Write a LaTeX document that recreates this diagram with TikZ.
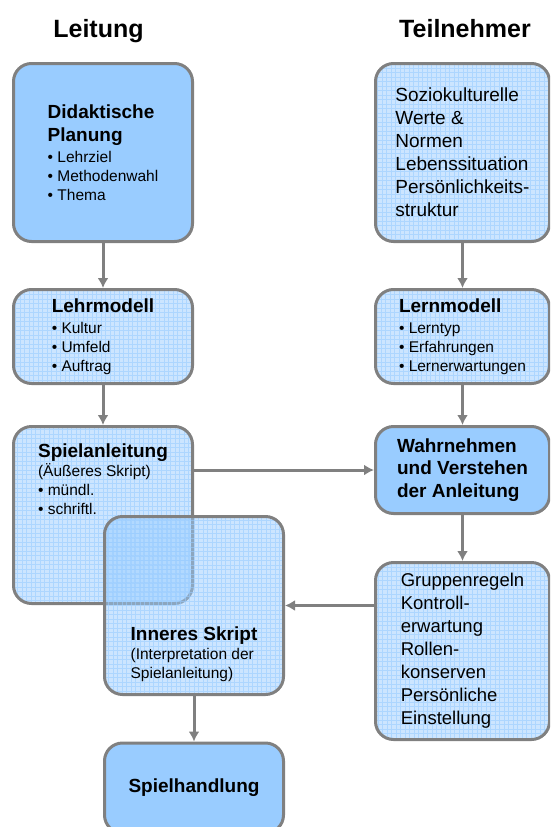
\documentclass[tikz,border=0pt]{standalone}
\usepackage{fontspec}
\setmainfont{Liberation Sans}
\usetikzlibrary{positioning,arrows.meta}

\definecolor{boxblue}{HTML}{99CCFF}
\definecolor{framegray}{HTML}{808080}

\newcommand{\titlesize}{\fontsize{25}{30}\selectfont}
\newcommand{\headsize}{\fontsize{19}{23}\selectfont}
\newcommand{\itemsize}{\fontsize{15.5}{19}\selectfont}

\tikzset{
  solidbox/.style={draw=framegray, line width=3pt, fill=boxblue, rounded corners=18pt,
    align=left, inner sep=0pt, font=\itemsize},
  gridbox/.style={solidbox, fill opacity=0.5, text opacity=1,
    path picture={\draw[boxblue, line width=0.9pt, opacity=0.6, step=4.5pt]
      (path picture bounding box.south west) grid (path picture bounding box.north east);}},
  boxtext/.style={align=left, inner sep=0pt, font=\itemsize},
  headline/.style={font=\titlesize\bfseries, anchor=base},
  flow/.style={draw=framegray, line width=3pt, -{Latex[length=10pt,width=11pt]}}
}

\begin{document}
\begin{tikzpicture}[x=1pt, y=-1pt]
  \useasboundingbox (0,0) rectangle (550,827);
  \clip (0,0) rectangle (550,827);

	\node[headline] (leitung) at (98.5,37) {Leitung};
	\node[headline] (teilnehmer) at (465,37) {Teilnehmer};

	\node[solidbox, minimum width=179pt, minimum height=178pt] (plan) at (103,152.5)
    {{\headsize\bfseries Didaktische}\\[4pt]{\headsize\bfseries Planung}\\[2pt]• Lehrziel\\• Methodenwahl\\• Thema};
	\node[gridbox, minimum width=179pt, minimum height=94pt] (lehr) at (103,336.5)
    {{\headsize\bfseries Lehrmodell}\\[2pt]• Kultur\\• Umfeld\\• Auftrag};
	\node[gridbox, minimum width=179pt, minimum height=177pt] (anleitung) at (103,515) {};
	\node[boxtext, below=19pt of anleitung.north] (anleitunglabel)
    {{\headsize\bfseries Spielanleitung}\\(Äußeres Skript)\\• mündl.\\• schriftl.};
	\node[gridbox, minimum width=179pt, minimum height=178pt] (inner) at (194,605.5) {};
	\node[boxtext, above=14pt of inner.south] (innerlabel)
    {{\headsize\bfseries Inneres Skript}\\(Interpretation der\\Spielanleitung)};
	\node[solidbox, minimum width=179pt, minimum height=90pt, font=\headsize\bfseries] (handlung) at (194,788) {Spielhandlung};

	\node[gridbox, minimum width=174pt, minimum height=178pt, font=\headsize] (sozio) at (462.5,152.5)
    {Soziokulturelle\\Werte \&\\Normen\\Lebenssituation\\Persönlichkeits-\\struktur};
	\node[gridbox, minimum width=174pt, minimum height=94pt] (lern) at (462.5,336.5)
    {{\headsize\bfseries Lernmodell}\\[2pt]• Lerntyp\\• Erfahrungen\\• Lernerwartungen};
	\node[solidbox, minimum width=174pt, minimum height=87pt, font=\fontsize{19}{22.5}\selectfont\bfseries] (wahr) at (462.5,470)
    {Wahrnehmen\\und Verstehen\\der Anleitung};
	\node[gridbox, minimum width=174pt, minimum height=177pt, font=\fontsize{18.5}{23}\selectfont] (gruppen) at (462.5,651)
    {Gruppenregeln\\Kontroll-\\erwartung\\Rollen-\\konserven\\Persönliche\\Einstellung};

	\draw[flow] (plan) -- (lehr);
	\draw[flow] (lehr) -- (anleitung);
	\draw[flow] (inner) -- (handlung);
	\draw[flow] (sozio) -- (lern);
	\draw[flow] (lern) -- (wahr);
	\draw[flow] (wahr) -- (gruppen);
	\draw[flow] (anleitung.east |- wahr.west) -- (wahr.west);
	\draw[flow] (gruppen.west |- inner.east) -- (inner.east);
\end{tikzpicture}
\end{document}
